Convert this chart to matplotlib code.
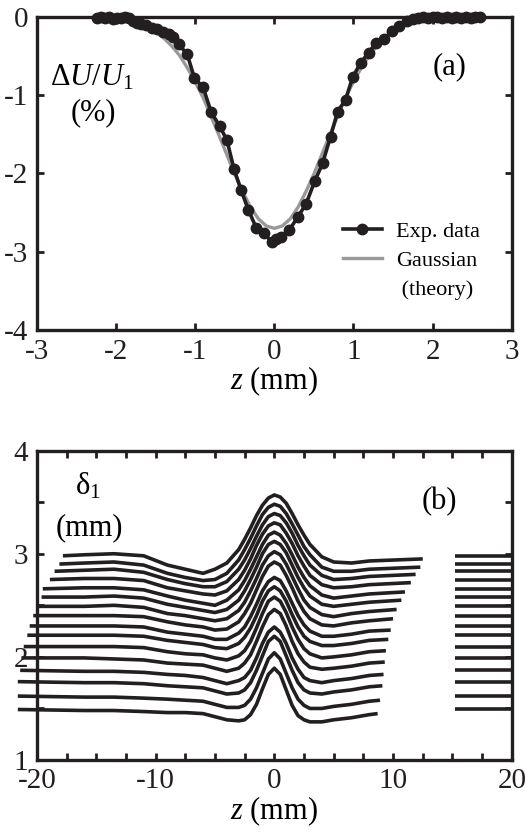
import numpy as np
import matplotlib
matplotlib.use("Agg")
import matplotlib.pyplot as plt
from matplotlib.lines import Line2D

plt.rcParams['font.family'] = ['Liberation Serif', 'DejaVu Serif']
plt.rcParams['mathtext.fontset'] = 'custom'
plt.rcParams['mathtext.rm'] = 'Liberation Serif'
plt.rcParams['mathtext.it'] = 'Liberation Serif:italic'
plt.rcParams['axes.unicode_minus'] = False

INK = '#231f20'
GREY = '#999999'

# ---- panel (a): experimental points and gaussian fit ----
exp_z = [-2.24, -2.19, -2.14, -2.09, -2.04, -1.99, -1.94, -1.89, -1.84, -1.79,
         -1.74, -1.68, -1.62, -1.55, -1.48, -1.40, -1.33, -1.28, -1.21, -1.10,
         -1.01, -0.90, -0.80, -0.69, -0.60, -0.51, -0.42, -0.33, -0.23, -0.13,
         -0.03, 0.02, 0.09, 0.19, 0.30, 0.40, 0.51, 0.61, 0.71, 0.80,
         0.90, 0.99, 1.09, 1.19, 1.29, 1.39, 1.49, 1.58, 1.67, 1.75,
         1.82, 1.88, 1.94, 2.00, 2.06, 2.12, 2.18, 2.24, 2.30, 2.36,
         2.42, 2.48, 2.54, 2.60]
exp_dU = [-0.02, -0.01, -0.02, -0.01, -0.03, -0.02, -0.02, -0.01, -0.02, -0.05,
          -0.08, -0.09, -0.10, -0.14, -0.16, -0.19, -0.22, -0.26, -0.35, -0.48,
          -0.78, -0.90, -1.21, -1.40, -1.57, -1.94, -2.21, -2.46, -2.69, -2.76,
          -2.88, -2.84, -2.81, -2.72, -2.55, -2.39, -2.10, -1.87, -1.53, -1.21,
          -1.06, -0.77, -0.59, -0.46, -0.33, -0.28, -0.18, -0.12, -0.06, -0.03,
          -0.02, -0.01, -0.02, -0.01, -0.01, -0.02, -0.01, -0.02, -0.01, -0.02,
          -0.01, -0.02, -0.01, 0.00]

gauss_z = [-2.4, -2.2, -2.0, -1.8, -1.6, -1.5, -1.4, -1.3, -1.2, -1.1, -1.0,
           -0.9, -0.8, -0.7, -0.6, -0.5, -0.4, -0.3, -0.2, -0.1, 0.0,
           0.1, 0.2, 0.3, 0.4, 0.5, 0.6, 0.7, 0.8, 0.9, 1.0,
           1.1, 1.2, 1.3, 1.4, 1.5, 1.6, 1.8, 2.0, 2.2, 2.4, 2.6]
gauss_dU = [0.00, -0.01, -0.02, -0.06, -0.13, -0.19, -0.27, -0.37, -0.49, -0.65, -0.83,
            -1.03, -1.27, -1.51, -1.76, -2.01, -2.23, -2.43, -2.58, -2.67, -2.70,
            -2.67, -2.58, -2.43, -2.23, -2.01, -1.76, -1.51, -1.27, -1.03, -0.83,
            -0.65, -0.49, -0.37, -0.27, -0.19, -0.13, -0.06, -0.02, -0.01, 0.00, 0.00]

# ---- panel (b): 16 profiles delta_1(z), bottom to top ----
grid_z = [-16, -13.5, -11, -9, -7.5, -6, -5, -4, -3, -2.5, -2, -1.5, -1, -0.5, 0,
          0.5, 1, 1.5, 2, 2.5, 3, 4, 5, 6.5, 8]
start_z = [-21.6, -21.6, -21.6, -21.4, -21.3, -21.1, -20.8, -20.6,
           -20.3, -19.9, -19.6, -19.5, -18.9, -18.5, -18.1, -17.8]
end_z = [8.7, 8.9, 9.1, 9.2, 9.3, 9.4, 9.6, 9.8, 10.0, 10.3, 10.7, 11.0, 11.5, 11.9, 12.3, 12.5]
baseline = [1.49, 1.62, 1.76, 1.87, 1.99, 2.10, 2.21, 2.30,
            2.40, 2.49, 2.58, 2.66, 2.75, 2.83, 2.90, 2.98]
end_val = [1.45, 1.58, 1.72, 1.83, 1.95, 2.06, 2.17, 2.26,
           2.37, 2.46, 2.55, 2.63, 2.72, 2.80, 2.87, 2.95]
profiles = [
    [1.48, 1.48, 1.47, 1.46, 1.46, 1.45, 1.42, 1.39, 1.38, 1.39, 1.44, 1.54, 1.69, 1.83, 1.89, 1.83, 1.68, 1.53, 1.43, 1.39, 1.37, 1.37, 1.39, 1.41, 1.44],
    [1.61, 1.61, 1.60, 1.59, 1.58, 1.57, 1.54, 1.51, 1.51, 1.53, 1.59, 1.70, 1.84, 1.98, 2.04, 1.98, 1.84, 1.70, 1.59, 1.53, 1.50, 1.50, 1.52, 1.54, 1.57],
    [1.75, 1.75, 1.74, 1.72, 1.71, 1.70, 1.67, 1.64, 1.65, 1.68, 1.75, 1.87, 2.01, 2.15, 2.20, 2.15, 2.01, 1.87, 1.75, 1.68, 1.65, 1.64, 1.66, 1.68, 1.71],
    [1.86, 1.86, 1.85, 1.83, 1.82, 1.80, 1.77, 1.74, 1.77, 1.80, 1.87, 1.99, 2.13, 2.24, 2.29, 2.24, 2.13, 1.99, 1.88, 1.80, 1.77, 1.75, 1.77, 1.79, 1.82],
    [1.99, 1.98, 1.97, 1.94, 1.93, 1.92, 1.89, 1.86, 1.89, 1.94, 2.02, 2.15, 2.29, 2.41, 2.46, 2.42, 2.30, 2.15, 2.03, 1.95, 1.90, 1.88, 1.89, 1.91, 1.94],
    [2.10, 2.10, 2.09, 2.05, 2.03, 2.02, 1.99, 1.97, 2.01, 2.06, 2.15, 2.28, 2.42, 2.54, 2.58, 2.54, 2.43, 2.29, 2.17, 2.08, 2.03, 1.99, 2.00, 2.02, 2.05],
    [2.21, 2.21, 2.20, 2.16, 2.14, 2.12, 2.09, 2.08, 2.13, 2.19, 2.28, 2.40, 2.54, 2.64, 2.68, 2.64, 2.54, 2.41, 2.29, 2.20, 2.15, 2.11, 2.11, 2.13, 2.16],
    [2.30, 2.30, 2.29, 2.24, 2.22, 2.20, 2.17, 2.17, 2.23, 2.29, 2.39, 2.51, 2.64, 2.73, 2.77, 2.74, 2.64, 2.52, 2.40, 2.31, 2.25, 2.20, 2.20, 2.22, 2.25],
    [2.40, 2.40, 2.39, 2.34, 2.31, 2.29, 2.26, 2.27, 2.34, 2.42, 2.52, 2.65, 2.78, 2.88, 2.92, 2.89, 2.79, 2.67, 2.54, 2.44, 2.37, 2.31, 2.30, 2.33, 2.35],
    [2.49, 2.50, 2.48, 2.42, 2.40, 2.37, 2.35, 2.37, 2.45, 2.53, 2.64, 2.76, 2.89, 2.98, 3.02, 2.99, 2.90, 2.78, 2.66, 2.55, 2.48, 2.41, 2.39, 2.42, 2.44],
    [2.58, 2.59, 2.57, 2.51, 2.48, 2.45, 2.43, 2.46, 2.55, 2.64, 2.75, 2.87, 3.00, 3.09, 3.12, 3.09, 3.01, 2.89, 2.77, 2.67, 2.59, 2.51, 2.49, 2.51, 2.53],
    [2.67, 2.67, 2.65, 2.59, 2.55, 2.52, 2.50, 2.55, 2.65, 2.74, 2.85, 2.97, 3.09, 3.18, 3.21, 3.18, 3.10, 2.99, 2.87, 2.77, 2.69, 2.60, 2.57, 2.59, 2.61],
    [2.76, 2.76, 2.74, 2.67, 2.64, 2.61, 2.60, 2.64, 2.75, 2.84, 2.95, 3.08, 3.19, 3.27, 3.30, 3.28, 3.20, 3.10, 2.98, 2.88, 2.79, 2.70, 2.67, 2.68, 2.70],
    [2.84, 2.85, 2.82, 2.75, 2.71, 2.68, 2.68, 2.73, 2.85, 2.94, 3.05, 3.17, 3.28, 3.36, 3.39, 3.37, 3.30, 3.20, 3.08, 2.98, 2.89, 2.79, 2.75, 2.76, 2.78],
    [2.91, 2.92, 2.89, 2.81, 2.77, 2.74, 2.75, 2.81, 2.94, 3.04, 3.15, 3.27, 3.38, 3.45, 3.48, 3.46, 3.39, 3.29, 3.18, 3.07, 2.99, 2.87, 2.83, 2.83, 2.85],
    [2.99, 3.00, 2.98, 2.89, 2.85, 2.81, 2.85, 2.91, 3.04, 3.14, 3.25, 3.37, 3.47, 3.54, 3.57, 3.55, 3.49, 3.39, 3.28, 3.18, 3.09, 2.97, 2.92, 2.91, 2.93],
]
flat_z = (15.2, 20.0)

fig = plt.figure(figsize=(5.26, 8.34), dpi=100)
ax1 = fig.add_axes([0.070, 0.604, 0.903, 0.376])
ax2 = fig.add_axes([0.070, 0.0887, 0.903, 0.371])

for ax in (ax1, ax2):
    for sp in ax.spines.values():
        sp.set_linewidth(2.4)
        sp.set_color(INK)
    ax.tick_params(which='both', direction='in', top=True, right=True,
                   width=2, length=5, colors=INK, labelsize=21, pad=6)

# panel (a)
ax1.plot(gauss_z, gauss_dU, color=GREY, lw=2.4, zorder=1)
ax1.plot(exp_z, exp_dU, color=INK, lw=2.6, marker='o', ms=7.5, mfc=INK, mec=INK,
         zorder=2, clip_on=False)
ax1.set_xlim(-3, 3)
ax1.set_ylim(-4, 0)
ax1.set_xticks(range(-3, 4))
ax1.set_yticks(range(-4, 1))
ax1.set_xlabel('$z$ (mm)', fontsize=22, labelpad=0)
ax1.text(-2.31, -0.78, '$\\Delta U/U_1$', fontsize=22, ha='center', va='center')
ax1.text(-2.29, -1.22, '(%)', fontsize=22, ha='center', va='center')
ax1.text(2.22, -0.64, '(a)', fontsize=22, ha='center', va='center')

handles = [Line2D([], [], color=INK, lw=2.6, marker='o', ms=7.5),
           Line2D([], [], color=GREY, lw=2.4),
           Line2D([], [], color='none')]
ax1.legend(handles, ['Exp. data', 'Gaussian', ' (theory)'], loc='upper left',
           bbox_to_anchor=(0.644, 0.348), frameon=False, fontsize=16,
           handlelength=1.75, handletextpad=0.65, labelspacing=0.38,
           borderpad=0, borderaxespad=0)

# panel (b)
for k in range(len(profiles)):
    zz = [start_z[k]] + grid_z + [end_z[k]]
    dd = [baseline[k]] + profiles[k] + [end_val[k]]
    ax2.plot(zz, dd, color=INK, lw=2.6, solid_capstyle='butt',
             solid_joinstyle='round', clip_on=False)
ax2.hlines(baseline, flat_z[0], flat_z[1], color=INK, lw=2.6)
ax2.set_xlim(-20, 20)
ax2.set_ylim(1, 4)
ax2.set_xticks([-20, -10, 0, 10, 20])
ax2.set_xticks(np.arange(-20, 20.1, 2.5), minor=True)
ax2.set_yticks([1, 2, 3, 4])
ax2.set_yticks(np.arange(1, 4.01, 0.5), minor=True)
ax2.set_xlabel('$z$ (mm)', fontsize=22, labelpad=0)
ax2.text(-15.7, 3.65, 'δ$_1$', fontsize=22, ha='center', va='center')
ax2.text(-15.6, 3.25, '(mm)', fontsize=22, ha='center', va='center')
ax2.text(13.9, 3.51, '(b)', fontsize=22, ha='center', va='center')

fig.savefig('out.png', dpi=100)
